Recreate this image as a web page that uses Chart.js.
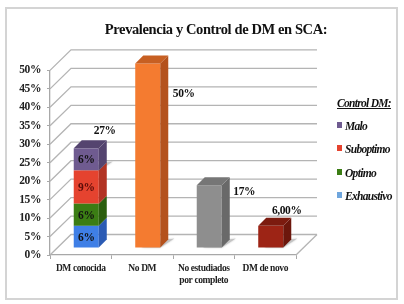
<!DOCTYPE html>
<html>
<head>
<meta charset="utf-8">
<script src="https://cdn.jsdelivr.net/npm/chart.js@4/dist/chart.umd.min.js"></script>
<style>
  html, body { margin: 0; padding: 0; background: #fff; }
  #wrap { position: relative; width: 404px; height: 304px; overflow: hidden; filter: blur(0.3px); }
  #frame { position: absolute; left: 5px; top: 7px; width: 389px; height: 289px; border: 2px solid #d4d4d4; }
  canvas { position: absolute; left: 0; top: 0; }
  #legend { position: absolute; left: 337px; top: 97px; font: italic bold 11.5px "Liberation Serif", serif; letter-spacing: -0.7px; color: #111; }
  #legend .head { text-decoration: underline; position: absolute; left: 0; top: 0; white-space: nowrap; }
  #legend .row { position: absolute; left: 0; white-space: nowrap; }
  #legend i { display: inline-block; width: 5px; height: 6px; margin-right: 3px; vertical-align: 2px; }
</style>
</head>
<body>
<div id="wrap">
  <div id="frame"></div>
  <canvas id="chart" width="404" height="304"></canvas>
  <div id="legend"></div>
</div>
<script>
// ---- data ----
const titleText = 'Prevalencia y Control de DM en SCA:';
const legendTitle = 'Control DM:';
const categories = ['DM conocida', 'No DM', ['No estudiados', 'por completo'], 'DM de novo'];
const exhaustivo = [6, null, null, null];
const optimo = [6, null, null, null];
const suboptimo = [9, null, null, null];
const malo = [6, null, null, null];
const noDm = [null, 50, null, null];
const noEstudiados = [null, null, 17, null];
const deNovo = [null, null, null, 6];
const totalLabels = ['27%', '50%', '17%', '6,00%'];
const yTicks = [0, 5, 10, 15, 20, 25, 30, 35, 40, 45, 50];

// front, side, top
const FACES = {
  exhaustivo: ['#3f7fe6', '#2b5bb4', '#2b5bb4'],
  optimo:     ['#3b7d14', '#2b5e0e', '#2b5e0e'],
  suboptimo:  ['#e5432f', '#b23323', '#b23323'],
  malo:       ['#6f5b90', '#54446f', '#54446f'],
  noDm:       ['#f47b30', '#b4521d', '#c75f22'],
  noEst:      ['#8e8e8e', '#696969', '#767676'],
  deNovo:     ['#9d2415', '#6c170c', '#7c1b0f'],
};

// the legend swatch for Exhaustivo is lighter than its bar segment
const legendItems = [
  ['Malo', '#6f5b90'],
  ['Suboptimo', '#e5432f'],
  ['Optimo', '#3b7d14'],
  ['Exhaustivo', '#6fa6dd'],
];

// 3D look
const WALL = { dx: 21, dy: -20.5 }; // axis plane to back wall
const FRONT = { dx: 5.5, dy: -7 };  // axis plane to bar front
const BAR = { dx: 8, dy: -8 };      // bar depth
const LABEL_OFFSET = [[18.5, -17], [36, 31], [35, 7], [16, -15]];

function poly(ctx, pts, color) {
  ctx.fillStyle = color;
  ctx.beginPath();
  pts.forEach((p, i) => i ? ctx.lineTo(p[0], p[1]) : ctx.moveTo(p[0], p[1]));
  ctx.closePath();
  ctx.fill();
}

const box3d = {
  id: 'box3d',
  beforeUpdate(chart) {
    // the original face (Cambria) is narrower than the installed serif
    chart.ctx.letterSpacing = '-0.4px';
  },
  afterLayout(chart) {
    // title sits off centre, over the plot + legend
    chart.titleBlock.left = 102;
    chart.titleBlock.right = 330;
  },
  beforeDatasetsDraw(chart) {
    const { ctx, scales: { x, y } } = chart;
    const x0 = x.left, x1 = x.right, bx0 = x0 + WALL.dx, bx1 = x1 + WALL.dx;

    // wall and floor lines
    ctx.save();
    ctx.strokeStyle = '#b4b4b4';
    ctx.lineWidth = 1.3;
    yTicks.forEach(t => {
      const py = y.getPixelForValue(t);
      ctx.beginPath();
      ctx.moveTo(x0, py);
      ctx.lineTo(bx0, py + WALL.dy);
      ctx.lineTo(bx1, py + WALL.dy);
      ctx.stroke();
    });
    const fy = y.getPixelForValue(0);
    ctx.beginPath();
    ctx.moveTo(x1, fy);
    ctx.lineTo(bx1, fy + WALL.dy);
    ctx.stroke();
    ctx.restore();

    // bars are drawn in a plane set back from the axis
    ctx.save();
    ctx.translate(FRONT.dx, FRONT.dy);

    // soft floor shadows
    categories.forEach((c, i) => {
      const bar = chart.getDatasetMeta(barOwner(chart, i)).data[i];
      ctx.save();
      ctx.shadowColor = '#bbb';
      ctx.shadowBlur = 2;
      const r = bar.x + bar.width / 2;
      const l = bar.x - bar.width / 2 + 6;
      poly(ctx, [[l, bar.base], [r, bar.base], [r + BAR.dx + 6, bar.base - BAR.dx - 1], [r + BAR.dx, bar.base - BAR.dx]], '#c4c4c4');
      ctx.restore();
    });
  },
  afterDatasetsDraw(chart) {
    const { ctx } = chart;
    // side and top faces of each bar
    chart.data.datasets.forEach((ds, di) => {
      chart.getDatasetMeta(di).data.forEach((bar, i) => {
        if (ds.data[i] == null) return;
        const r = bar.x + bar.width / 2, l = bar.x - bar.width / 2;
        poly(ctx, [[r, bar.y], [r + BAR.dx, bar.y + BAR.dy], [r + BAR.dx, bar.base + BAR.dy], [r, bar.base]], ds.faces[1]);
        if (barOwner(chart, i) === di) {
          poly(ctx, [[l, bar.y], [l + BAR.dx, bar.y + BAR.dy], [r + BAR.dx, bar.y + BAR.dy], [r, bar.y]], ds.faces[2]);
        }
      });
    });

    // value labels
    ctx.textAlign = 'center';
    ctx.textBaseline = 'middle';
    ctx.fillStyle = '#111';
    ctx.font = 'bold 11.5px "Liberation Serif", serif';
    chart.data.datasets.forEach((ds, di) => {
      if (!ds.inside) return;
      const bar = chart.getDatasetMeta(di).data[0];
      ctx.fillStyle = ds.inside;
      ctx.fillText(ds.data[0] + '%', bar.x, (bar.y + bar.base) / 2 + 1);
    });
    ctx.fillStyle = '#111';
    categories.forEach((c, i) => {
      const bar = chart.getDatasetMeta(barOwner(chart, i)).data[i];
      ctx.fillText(totalLabels[i], bar.x + LABEL_OFFSET[i][0], bar.y + LABEL_OFFSET[i][1]);
    });
    ctx.restore();
  },
};

// last dataset with a value in this category (top of the stack)
function barOwner(chart, i) {
  let owner = 0;
  chart.data.datasets.forEach((ds, di) => { if (ds.data[i] != null) owner = di; });
  return owner;
}

function makeSet(label, data, faces, inside) {
  return { label, data, faces, inside, backgroundColor: faces[0], borderWidth: 0, stack: 's', clip: false };
}

new Chart(document.getElementById('chart'), {
  type: 'bar',
  plugins: [box3d],
  data: {
    labels: categories,
    datasets: [
      makeSet('Exhaustivo', exhaustivo, FACES.exhaustivo, '#111'),
      makeSet('Optimo', optimo, FACES.optimo, '#111'),
      makeSet('Suboptimo', suboptimo, FACES.suboptimo, '#5a0c08'),
      makeSet('Malo', malo, FACES.malo, '#111'),
      makeSet('No DM', noDm, FACES.noDm),
      makeSet('No estudiados', noEstudiados, FACES.noEst),
      makeSet('DM de novo', deNovo, FACES.deNovo),
    ],
  },
  options: {
    responsive: false,
    animation: false,
    layout: { padding: { right: 108 } },
    datasets: { bar: { categoryPercentage: 1, barPercentage: 0.407 } },
    plugins: {
      legend: { display: false },
      tooltip: { enabled: false },
      title: {
        display: true,
        text: titleText,
        color: '#111',
        font: { family: '"Liberation Serif", serif', size: 14.5, weight: 'bold' },
        padding: { top: 22, bottom: 31 },
      },
    },
    scales: {
      x: {
        stacked: true,
        afterFit: s => { s.height = 49; },
        grid: { drawOnChartArea: false, color: '#a8a8a8', tickLength: 4 },
        border: { color: '#a8a8a8', width: 1.3 },
        ticks: {
          color: '#222',
          padding: 4,
          maxRotation: 0,
          autoSkip: false,
          font: { family: '"Liberation Serif", serif', size: 9.5, weight: 'bold' },
        },
      },
      y: {
        stacked: true,
        min: 0,
        max: 50,
        afterFit: s => { s.width = 50; },
        grid: { drawOnChartArea: false, color: '#a8a8a8', tickLength: 3 },
        border: { color: '#a8a8a8', width: 1.3 },
        ticks: {
          stepSize: 5,
          color: '#222',
          padding: 6,
          callback: v => v + '%',
          font: { family: '"Liberation Serif", serif', size: 11.5, weight: 'bold' },
        },
      },
    },
  },
});

// legend block
const legendEl = document.getElementById('legend');
legendEl.innerHTML = '<div class="head" style="left:0">' + legendTitle + '</div>' +
  legendItems.map((it, i) => '<div class="row" style="top:' + (23 + i * 23.3) + 'px"><i style="background:' + it[1] + '"></i>' + it[0] + '</div>').join('');
</script>
</body>
</html>
